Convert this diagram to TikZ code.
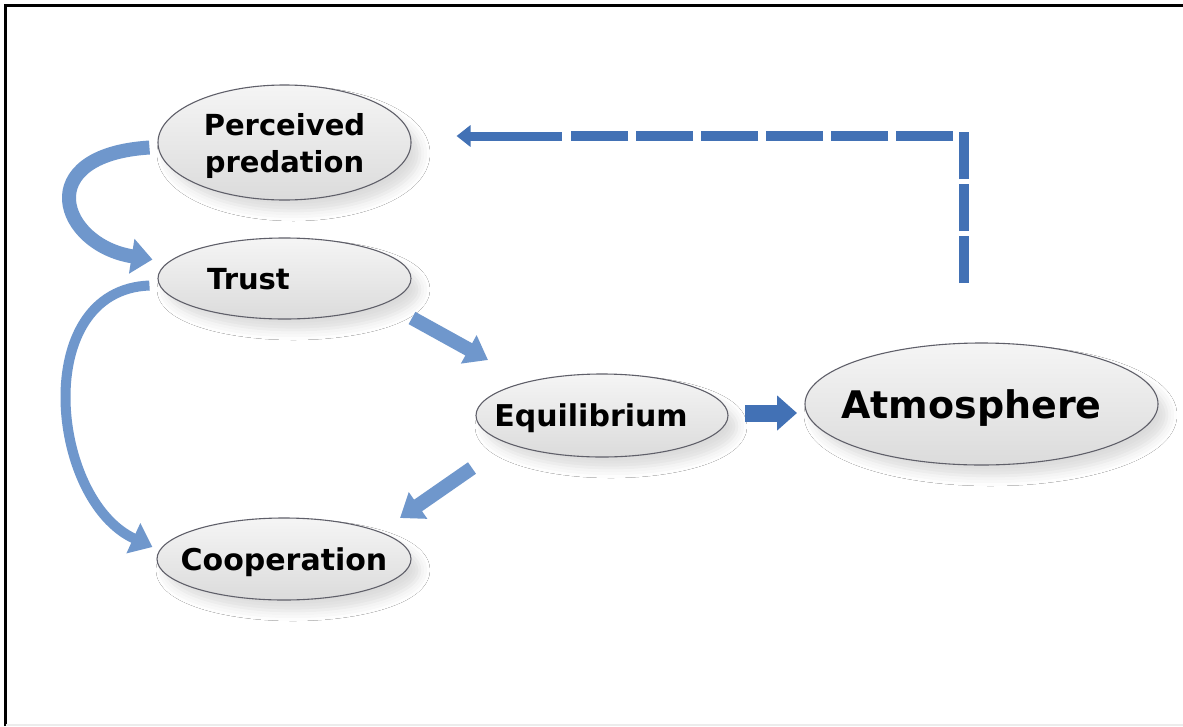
\documentclass[tikz,border=0pt]{standalone}
\usepackage{fontspec}
\setmainfont{DejaVu Sans}
\usetikzlibrary{shapes.geometric,arrows.meta,shadows.blur}
\definecolor{arrowblue}{RGB}{111,151,204}
\definecolor{darkblue}{RGB}{66,113,181}
\definecolor{ovalline}{RGB}{95,95,105}

\begin{document}
\begin{tikzpicture}[x=1pt,y=-1pt,
  oval/.style={ellipse,draw=ovalline,line width=1.1pt,top color=gray!8,bottom color=gray!28,inner sep=0pt,text depth=0pt,font=\bfseries\fontsize{29}{37}\selectfont,blur shadow={shadow xshift=9pt,shadow yshift=-11pt,shadow blur radius=10pt,shadow opacity=14}},
  bendarrow/.style={arrowblue,line width=14pt,-{Triangle[width=34pt,length=21pt]}},
  blockarrow/.style={arrowblue,line width=14pt,-{Triangle[width=31pt,length=22pt]}},
  feedback/.style={darkblue,line width=9.5pt}]
\useasboundingbox (0,0) rectangle (1183,726);
\fill[white] (0,0) rectangle (1183,726);
\draw[line width=3pt] (5,726) -- (5,5) -- (1183,5);
\draw[gray!15,line width=1.5pt] (6,725) -- (1183,725);

% the five ovals
\node[oval,minimum width=253pt,minimum height=115pt,align=center] (perc) at (284.5,142.5) {Perceived\\predation};
\node[oval,minimum width=253pt,minimum height=81pt] (trust) at (284.5,278.5) {\makebox[0pt]{Trust\hspace*{72pt}}};
\node[oval,minimum width=254pt,minimum height=82pt,font=\bfseries\fontsize{30}{37}\selectfont] (coop) at (284,559) {\makebox[0pt]{Cooperation}};
\node[oval,minimum width=252pt,minimum height=83pt,font=\bfseries\fontsize{30}{37}\selectfont] (equi) at (602,415.5) {\makebox[0pt]{Equilibrium\hspace*{22pt}}};
\node[oval,minimum width=353pt,minimum height=122pt,font=\bfseries\fontsize{38}{40}\selectfont] (atm) at (981.5,404) {\makebox[0pt]{Atmosphere\hspace*{20pt}}};

% curved arrows on the left
\draw[bendarrow] ([shift={(-8,5)}]perc.west) .. controls (30,155) and (60,245) .. ([shift={(-5,-19)}]trust.west);
\draw[bendarrow,line width=10pt,-{Triangle[width=32pt,length=21pt]}] ([shift={(-8,7)}]trust.west) .. controls (30,290) and (50,500) .. ([shift={(-4,-12)}]coop.west);

% straight arrows
\draw[blockarrow] ([shift={(127.5,39.5)}]trust.center) -- ([shift={(-114,-55.5)}]equi.center);
\draw[blockarrow] ([shift={(-130,52.5)}]equi.center) -- ([shift={(116,-41)}]coop.center);
\draw[blockarrow,darkblue,line width=17pt,-{Triangle[width=34pt,length=20pt]}] ([shift={(143,-2.5)}]equi.center) -- ([shift={(-184.5,9)}]atm.center);

% dashed feedback
\coordinate (fbstart) at (964,283);
\coordinate (fbcorner) at (964,132);
\draw[feedback,dash pattern=on 47pt off 5pt] (fbstart) -- (fbcorner);
\draw[feedback,dash pattern=on 57pt off 8pt] ([shift={(-11,4)}]fbcorner) -- ([shift={(152,-6.5)}]perc.east);
\draw[feedback,line width=9pt,-{Triangle[width=21pt,length=14pt]}] ([shift={(150,-6.5)}]perc.east) -- ([shift={(45,-6.5)}]perc.east);
\end{tikzpicture}
\end{document}
